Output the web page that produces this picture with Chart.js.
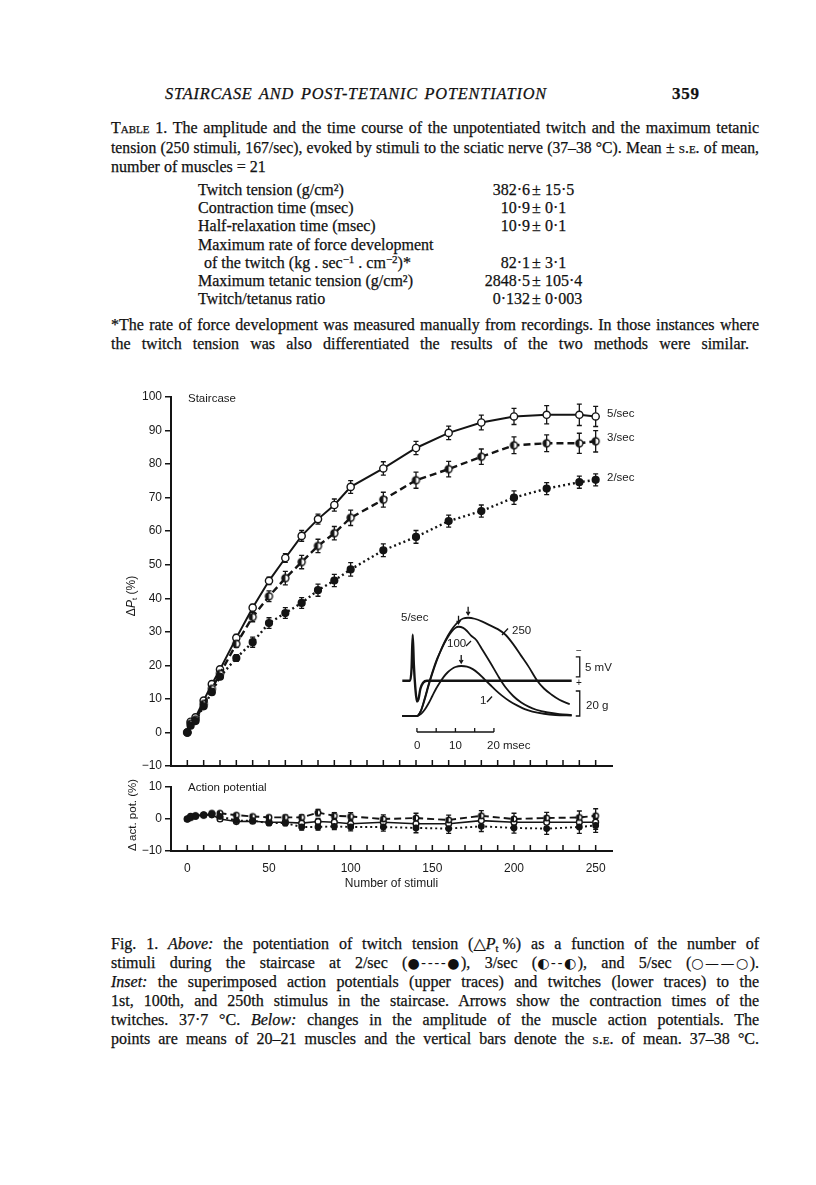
<!DOCTYPE html>
<html><head><meta charset="utf-8">
<script src="https://cdn.jsdelivr.net/npm/chart.js@4.4.1/dist/chart.umd.min.js"></script>
<style>
body{margin:0;background:#fff;}
#page{position:relative;width:816px;height:1185px;background:#fff;overflow:hidden;font-family:"Liberation Serif","DejaVu Serif",serif;color:#111;}
.t{position:absolute;font-size:16px;line-height:19px;white-space:nowrap;-webkit-text-stroke:0.25px #111;}
.j{text-align:justify;text-align-last:justify;white-space:normal;}
.sc{font-variant:small-caps;}
.ib{display:inline-block;}
.sym{display:inline-block;font-family:"DejaVu Sans",sans-serif;font-size:14px;letter-spacing:1.5px;-webkit-text-stroke:0;}
.s{position:absolute;font-family:"Liberation Sans",Arial,sans-serif;font-size:12px;line-height:14px;color:#1a1a1a;white-space:nowrap;}
.vl{position:absolute;right:286px;text-align:right;font-size:16px;line-height:19px;white-space:nowrap;-webkit-text-stroke:0.25px #111;}
.pm{position:absolute;left:532px;font-size:16px;line-height:19px;-webkit-text-stroke:0.25px #111;}
.vr{position:absolute;left:545px;font-size:16px;line-height:19px;white-space:nowrap;-webkit-text-stroke:0.25px #111;}
sub{font-size:11px;line-height:0;vertical-align:-3px;}
sup{font-size:11px;line-height:0;vertical-align:5px;}
canvas{position:absolute;}
.rot{position:absolute;transform:translate(-50%,-50%) rotate(-90deg);font-family:"Liberation Sans",Arial,sans-serif;font-size:12px;white-space:nowrap;color:#1a1a1a;}
</style></head>
<body><div id="page">
<div class="t j" style="left:165px;top:84px;width:382px;font-style:italic;font-size:16.5px;letter-spacing:0.8px;">STAIRCASE AND POST-TETANIC POTENTIATION</div>
<div class="t" style="left:672px;top:84px;font-weight:bold;font-size:17px;letter-spacing:0.8px;">359</div>

<div class="t j" style="left:111px;top:118px;width:648px;"><span class="sc">Table</span> 1. The amplitude and the time course of the unpotentiated twitch and the maximum tetanic</div>
<div class="t j" style="left:111px;top:138px;width:648px;">tension (250 stimuli, 167/sec), evoked by stimuli to the sciatic nerve (37–38 °C). Mean ± <span class="sc">s.e.</span> of mean,</div>
<div class="t" style="left:111px;top:157px;">number of muscles = 21</div>

<div class="t" style="left:198px;top:180px;">Twitch tension (g/cm²)</div>
<div class="vl" style="top:180px;">382·6</div><div class="pm" style="top:180px;">±</div><div class="vr" style="top:180px;">15·5</div>
<div class="t" style="left:198px;top:198px;">Contraction time (msec)</div>
<div class="vl" style="top:198px;">10·9</div><div class="pm" style="top:198px;">±</div><div class="vr" style="top:198px;">0·1</div>
<div class="t" style="left:198px;top:216px;">Half-relaxation time (msec)</div>
<div class="vl" style="top:216px;">10·9</div><div class="pm" style="top:216px;">±</div><div class="vr" style="top:216px;">0·1</div>
<div class="t" style="left:198px;top:235px;">Maximum rate of force development</div>
<div class="t" style="left:204px;top:253px;">of the twitch (kg . sec<sup>−1</sup> . cm<sup>−2</sup>)*</div>
<div class="vl" style="top:253px;">82·1</div><div class="pm" style="top:253px;">±</div><div class="vr" style="top:253px;">3·1</div>
<div class="t" style="left:198px;top:271px;">Maximum tetanic tension (g/cm²)</div>
<div class="vl" style="top:271px;">2848·5</div><div class="pm" style="top:271px;">±</div><div class="vr" style="top:271px;">105·4</div>
<div class="t" style="left:198px;top:289px;">Twitch/tetanus ratio</div>
<div class="vl" style="top:289px;">0·132</div><div class="pm" style="top:289px;">±</div><div class="vr" style="top:289px;">0·003</div>

<div class="t j" style="left:111px;top:315px;width:648px;">*The rate of force development was measured manually from recordings. In those instances where</div>
<div class="t j" style="left:111px;top:334px;width:638px;">the twitch tension was also differentiated the results of the two methods were similar.</div>

<canvas id="top" width="540" height="400" style="left:100px;top:380px;width:540px;height:400px;"></canvas>
<canvas id="bot" width="540" height="116" style="left:100px;top:775px;width:540px;height:116px;"></canvas>
<canvas id="ins" width="230" height="160" style="left:395px;top:600px;width:230px;height:160px;"></canvas>

<div class="s" style="left:188px;top:391px;font-size:11.5px;">Staircase</div>
<div class="s" style="left:607px;top:406px;font-size:11.5px;">5/sec</div>
<div class="s" style="left:607px;top:430px;font-size:11.5px;">3/sec</div>
<div class="s" style="left:607px;top:470px;font-size:11.5px;">2/sec</div>
<div class="rot" style="left:131px;top:596px;">Δ<i>P</i><sub style="font-size:8px;vertical-align:-2px;">t</sub> (%)</div>
<div class="rot" style="left:132px;top:815px;font-size:11.5px;">Δ act. pot. (%)</div>
<div class="s" style="left:188px;top:780px;font-size:11.5px;">Action potential</div>

<div class="s" style="left:401px;top:610px;font-size:11.5px;">5/sec</div>
<div class="s" style="left:512px;top:623px;font-size:11.5px;">250</div>
<div class="s" style="left:447px;top:636px;font-size:11.5px;">100</div>
<div class="s" style="left:480px;top:693px;font-size:11.5px;">1</div>
<div class="s" style="left:585px;top:660px;font-size:11.5px;">5 mV</div>
<div class="s" style="left:586px;top:698px;font-size:11.5px;">20 g</div>
<div class="s" style="left:576px;top:644px;font-size:10px;">−</div>
<div class="s" style="left:576px;top:676px;font-size:10px;">+</div>
<div class="s" style="left:414px;top:738px;font-size:11.5px;">0</div>
<div class="s" style="left:449px;top:738px;font-size:11.5px;">10</div>
<div class="s" style="left:487px;top:738px;font-size:11.5px;">20 msec</div>

<div class="t j" style="left:111px;top:934px;width:648px;">Fig. 1. <i>Above:</i> the potentiation of twitch tension <span class="ib">(△<i>P</i><sub>t</sub> %)</span> as a function of the number of</div>
<div class="t j" style="left:111px;top:953px;width:648px;">stimuli during the staircase at 2/sec <span class="ib">(<span class="sym">●‐‐‐‐●</span>),</span> 3/sec <span class="ib">(<span class="sym">◐‐‐◐</span>),</span> and 5/sec <span class="ib">(<span class="sym">○——○</span>).</span></div>
<div class="t j" style="left:111px;top:972px;width:648px;"><i>Inset:</i> the superimposed action potentials (upper traces) and twitches (lower traces) to the</div>
<div class="t j" style="left:111px;top:991px;width:648px;">1st, 100th, and 250th stimulus in the staircase. Arrows show the contraction times of the</div>
<div class="t j" style="left:111px;top:1010px;width:648px;">twitches. 37·7 °C. <i>Below:</i> changes in the amplitude of the muscle action potentials. The</div>
<div class="t j" style="left:111px;top:1029px;width:648px;">points are means of 20–21 muscles and the vertical bars denote the <span class="sc">s.e.</span> of mean. 37–38 °C.</div>
</div>
<script>
// fit justified lines so none wraps
document.querySelectorAll('.j').forEach(el=>{
  const target = parseFloat(el.style.width);
  const probe = el.cloneNode(true);
  probe.style.width='auto'; probe.style.whiteSpace='nowrap'; probe.style.visibility='hidden';
  probe.style.textAlign='left'; probe.style.textAlignLast='left';
  el.parentNode.appendChild(probe);
  const w = probe.getBoundingClientRect().width; probe.remove();
  if (w > target - 3) {
    const fs = parseFloat(getComputedStyle(el).fontSize);
    el.style.fontSize = (fs*(target-6)/w).toFixed(2)+'px';
  }
});

// ---- data ----
const stimuli = [0,2,5,10,15,20,30,40,50,60,70,80,90,100,120,140,160,180,200,220,240,250];
const stair5 = [0,3.2,4.5,9.5,14.4,18.8,28.2,37.2,45.2,52,58.6,63.6,67.8,73.2,78.7,84.8,89.3,92.4,94.2,94.7,94.7,94.2];
const stair3 = [0,2.6,3.8,8.5,13,17.5,26.4,34.4,40.6,46,50.8,55.6,59.4,64,69.4,75.2,78.5,82.2,85.6,86.2,86.2,86.8];
const stair2 = [0,2,3.4,7.8,12,16.6,22.2,26.9,32.6,35.6,38.6,42.4,45.3,48.6,54.3,58.3,63,66,70,72.7,74.6,75.3];
const err5 = [0,0,0,0.6,0.8,0.8,1,1,1.1,1.3,1.6,1.5,1.8,1.9,2,2,2,2.2,2.4,2.7,3.2,3];
const err3 = [0,0,0,0.6,0.8,0.8,1,1.4,1.6,2,2,2,2,2.3,2.2,2.4,2.3,2.3,2.5,2.5,3,3.2];
const err2 = [0,0,0,0.5,0.7,0.7,1,1.5,1.6,1.6,1.6,1.8,1.8,2,1.9,1.9,1.8,1.8,2,1.8,1.8,1.8];
const ap5 = [0,0.8,1,1.3,1.3,0,-0.8,-0.7,-1,-1,-1.3,-0.8,-1,-1.5,-1,-1.5,-1.5,-0.5,-1,-1,-1,-1];
const ap3 = [0,0.5,1,1.2,1.8,1.8,1.2,0.8,0.5,0.5,0.5,2,1,0.8,0,0.3,-0.3,1,0,0.3,0.5,1];
const ap2 = [0,0.5,0.8,1.2,1.5,0.8,-0.5,-0.5,-1.3,-1.3,-2.5,-2.5,-2.3,-2.5,-2.5,-2.8,-3,-2.3,-2.8,-3,-2.5,-2];
const apErr5 = [0,0,0,0,0.3,0.5,0.5,0.5,0.6,0.7,1,1,1,1.2,1.3,1.5,1.5,1.6,1.6,1.8,2,2.2];
const apErr3 = [0,0,0,0,0.3,0.5,0.5,0.5,0.6,0.7,0.8,1,1,1.2,1.3,1.5,1.5,1.6,1.8,1.8,2,2.2];
const apErr2 = [0,0,0,0,0.3,0.4,0.5,0.5,0.6,0.8,1,1,1,1.2,1.3,1.5,1.5,1.6,1.6,1.8,2,2.2];
// inset traces (time in msec)
const apT  = [-3.8,-1.8,-1.4,-1.1,-0.8,-0.4,0,0.4,0.9,1.6,2.6,40.2];
const apMV = [0,0,3,11.5,4,-2,-5.2,-4.6,-2,-0.5,0,0];
const tw1T = [-3.8,0,1,2,3,4,5,6,7,8,9,10,11.5,13,14.5,16,17.5,19,20.5,22,24,26,28,30,33,36,40.2];
const tw1G = [0,0,1.5,5,10,16,22,27,31.5,35,37.5,39.2,40,39.5,37.5,34,29.5,25,20.5,16.5,12,8.5,5.5,3.5,1.8,0.8,0.3];
const tw100T = [-3.8,0,1,2,3,4,5,6,7,8,9,10,10.8,12,13,14,15.4,17,19,21,22,23,25,27,29,31,34,37,40.2];
const tw100G = [0,0,4,14,25,35,44,51,57.5,63,67.5,70.5,71.4,70.5,68,64.5,60.8,53,43,32.5,27.4,23,16,11,7.5,5,2.8,1.5,0.8];
const tw250T = [-3.8,0,1,2,3,4,5,6,7,8,9,10,11,12,13.3,15,17,19,21,23,25,27,29,31.3,33,35,37,39.7];
const tw250G = [0,0,4,13,24,34,43,51,58,64,69,73,76,78,78.6,77.8,75.5,72.5,69.5,65,57.5,48.5,39.5,28,22,17,13,9.4];
const leftTicks = [-10,0,10,20,30,40,50,60,70,80,90,100];

// ---- helpers ----
Chart.defaults.font.family = '"Liberation Sans", Arial, sans-serif';
Chart.defaults.color = '#1a1a1a';
const INK = '#141414';
function halfDot(r){
  const s = Math.ceil(r*2+4), c = document.createElement('canvas'); c.width=s; c.height=s;
  const g = c.getContext('2d'), m = s/2;
  g.fillStyle='#fff'; g.beginPath(); g.arc(m,m,r,0,Math.PI*2); g.fill();
  g.fillStyle=INK; g.beginPath(); g.moveTo(m,m); g.arc(m,m,r,Math.PI/2,Math.PI*1.5); g.closePath(); g.fill();
  g.strokeStyle=INK; g.lineWidth=1.4; g.beginPath(); g.arc(m,m,r,0,Math.PI*2); g.stroke();
  return c;
}
const fmt = v => v < 0 ? '\u2212' + Math.abs(v) : String(v);
function mk(vals, errs, kind, small){
  const base = {data: stimuli.map((x,i)=>({x, y: vals[i]})), errors: errs, borderColor: INK, fill:false, tension:0,
    pointBorderColor: INK, pointBorderWidth: 1.4};
  const k = small ? 0.8 : 1;
  if (kind==='s5') Object.assign(base,{borderWidth:2*k, borderDash:[], pointStyle:'circle', pointRadius:3.6*k, pointBackgroundColor:'#fff'});
  if (kind==='s3') Object.assign(base,{borderWidth:2.4*k, borderDash:[7,4], pointStyle: halfDot(3.5*k), pointRadius:3.5*k});
  if (kind==='s2') Object.assign(base,{borderWidth:2.4*k, borderDash:[2,3], pointStyle:'circle', pointRadius:3.4*k, pointBackgroundColor:INK});
  return base;
}
const errorBars = {id:'errorBars', beforeDatasetsDraw(chart){
  const ctx = chart.ctx; ctx.save(); ctx.strokeStyle=INK; ctx.lineWidth=1.3;
  chart.data.datasets.forEach((ds,i)=>{
    if(!ds.errors) return; const meta = chart.getDatasetMeta(i); const ys = chart.scales[meta.yAxisID];
    ds.data.forEach((d,j)=>{ const e = ds.errors[j]; if(!e) return;
      const x = meta.data[j].x, y1 = ys.getPixelForValue(d.y+e), y2 = ys.getPixelForValue(d.y-e);
      ctx.beginPath(); ctx.moveTo(x,y1); ctx.lineTo(x,y2);
      ctx.moveTo(x-2.5,y1); ctx.lineTo(x+2.5,y1); ctx.moveTo(x-2.5,y2); ctx.lineTo(x+2.5,y2); ctx.stroke(); });
  }); ctx.restore(); }};
const innerTicks = {id:'innerTicks', afterDraw(chart){
  const s = chart.scales.x, ctx = chart.ctx, yb = chart.chartArea.bottom;
  ctx.save(); ctx.strokeStyle=INK; ctx.lineWidth=1.5;
  s.ticks.forEach(t=>{ if(t.value<0||t.value>250) return; const x = s.getPixelForValue(t.value);
    ctx.beginPath(); ctx.moveTo(x,yb); ctx.lineTo(x,yb-6); ctx.stroke(); });
  ctx.restore(); }};

function axisY(min,max){ return {min, max, afterBuildTicks(s){ s.ticks = leftTicks.filter(v=>v>=min&&v<=max).map(v=>({value:v})); },
  ticks:{padding:3, font:{size:12}, callback: v=>fmt(v)},
  grid:{drawOnChartArea:false, tickLength:6, color:INK, lineWidth:1.5},
  border:{display:true, color:INK, width:2}, afterFit(s){ s.width = 71; }}; }

new Chart(document.getElementById('top'), {
  type:'line',
  data:{datasets:[mk(stair2,err2,'s2'), mk(stair3,err3,'s3'), mk(stair5,err5,'s5')]},
  options:{responsive:false, animation:false, events:[],
    layout:{padding:{left:0,right:28,top:17,bottom:14}},
    plugins:{legend:{display:false}, tooltip:{enabled:false}},
    scales:{
      x:{type:'linear', min:-10, max:260, ticks:{display:false, stepSize:10}, grid:{display:false, drawTicks:false},
         border:{display:true, color:INK, width:2}, afterFit(s){ s.height = 0; }},
      y: axisY(-10,100)
    }},
  plugins:[errorBars, innerTicks]
});

new Chart(document.getElementById('bot'), {
  type:'line',
  data:{datasets:[mk(ap2,apErr2,'s2',true), mk(ap3,apErr3,'s3',true), mk(ap5,apErr5,'s5',true)]},
  options:{responsive:false, animation:false, events:[],
    layout:{padding:{left:0,right:28,top:12,bottom:0}},
    plugins:{legend:{display:false}, tooltip:{enabled:false}},
    scales:{
      x:{type:'linear', min:-10, max:260,
         ticks:{stepSize:10, autoSkip:false, maxRotation:0, padding:10, font:{size:12},
                callback: v => (v>=0 && v<=250 && v%50===0) ? String(v) : ''},
         grid:{display:false, drawTicks:false}, border:{display:true, color:INK, width:2},
         title:{display:true, text:'Number of stimuli', font:{size:12}, padding:0},
         afterFit(s){ s.height = 40; }},
      y: axisY(-10,10)
    }},
  plugins:[errorBars, innerTicks]
});

const insetDeco = {id:'insetDeco', afterDatasetsDraw(chart){
  const ctx = chart.ctx, xs = chart.scales.x, yg = chart.scales.y, ym = chart.scales.yAP;
  ctx.save(); ctx.strokeStyle=INK; ctx.lineWidth=1.3;
  const yb = yg.getPixelForValue(-12.8);
  ctx.beginPath(); ctx.moveTo(xs.getPixelForValue(0),yb); ctx.lineTo(xs.getPixelForValue(20),yb);
  [0,5,10,15,20].forEach(t=>{ const x = xs.getPixelForValue(t); ctx.moveTo(x,yb); ctx.lineTo(x,yb-4); });
  ctx.stroke();
  const bx = xs.getPixelForValue(42.3);
  const br = (a,b)=>{ ctx.beginPath(); ctx.moveTo(bx-4,a); ctx.lineTo(bx,a); ctx.lineTo(bx,b); ctx.lineTo(bx-4,b); ctx.stroke(); };
  br(ym.getPixelForValue(6), ym.getPixelForValue(1));
  br(yg.getPixelForValue(20), yg.getPixelForValue(0));
  chart.data.datasets.forEach(ds=>{ if(!ds.arrow) return;
    const pk = ds.data.reduce((a,b)=> b.y>a.y?b:a);
    const px = xs.getPixelForValue(pk.x), py = yg.getPixelForValue(pk.y);
    ctx.beginPath(); ctx.moveTo(px,py-11); ctx.lineTo(px,py-3);
    ctx.moveTo(px-1.8,py-6); ctx.lineTo(px,py-3); ctx.lineTo(px+1.8,py-6); ctx.stroke(); });
  const seg = (a,b,c,d)=>{ ctx.beginPath(); ctx.moveTo(a-395,b-600); ctx.lineTo(c-395,d-600); ctx.stroke(); };
  seg(502,635,508,628.5); seg(466,646,471,641); seg(487,702,492,696.5);
  ctx.restore(); }};

const tr = (T,V)=>T.map((t,i)=>({x:t, y:V[i]}));
const trace = (T,V,axis,w,arrow)=>({data:tr(T,V), yAxisID:axis, arrow, borderColor:INK, borderWidth:w, pointRadius:0, cubicInterpolationMode:'monotone', fill:false});
new Chart(document.getElementById('ins'), {
  type:'line',
  data:{datasets:[
    trace(apT,apMV,'yAP',2.4,false),
    trace(tw1T,tw1G,'y',1.8,true),
    trace(tw100T,tw100G,'y',1.8,true),
    trace(tw250T,tw250G,'y',1.8,true)
  ]},
  options:{responsive:false, animation:false, events:[], layout:{padding:0},
    plugins:{legend:{display:false}, tooltip:{enabled:false}},
    scales:{
      x:{type:'linear', display:false, min:-5.7, max:54.05},
      y:{display:false, min:-35.2, max:92.8},
      yAP:{display:false, min:-19.8, max:20.2}
    }},
  plugins:[insetDeco]
});
</script>
</body></html>
